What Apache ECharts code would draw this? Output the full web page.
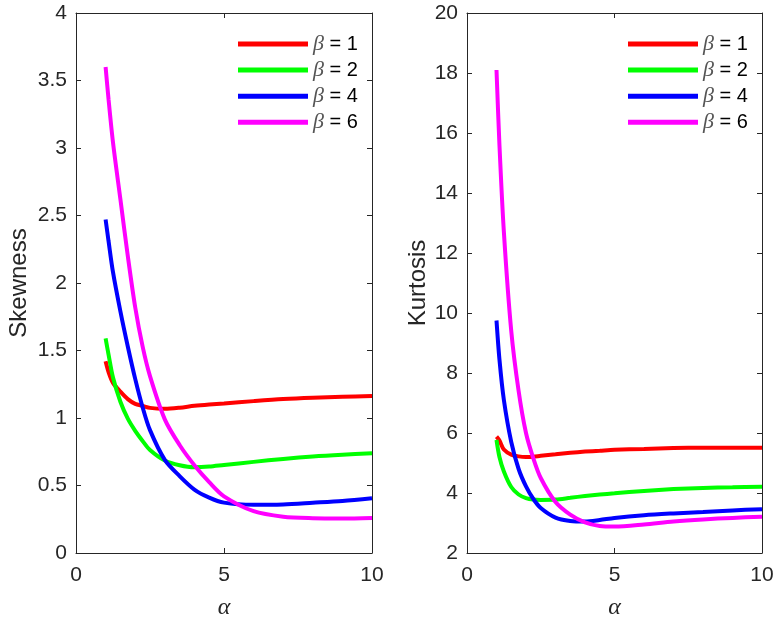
<!DOCTYPE html>
<html>
<head>
<meta charset="utf-8">
<script src="https://cdn.jsdelivr.net/npm/echarts@6/dist/echarts.min.js"></script>
<style>
  html, body { margin: 0; padding: 0; background: #fff; }
  #chart { width: 780px; height: 620px; }
</style>
</head>
<body>
<div id="chart"></div>
<script>
// shape parameter alpha, shared by every curve
const alpha = [1, 1.1, 1.25, 1.5, 1.75, 2, 2.25, 2.5, 3, 3.5, 4, 4.5, 5, 6, 7, 8, 9, 10];

const betaNames = ['1', '2', '4', '6'];
const betaColors = ['#ff0000', '#00ff00', '#0000ff', '#ff00ff'];

// skewness, one array per beta
const skewB1 = [1.42, 1.34, 1.26, 1.195, 1.14, 1.105, 1.09, 1.075, 1.068, 1.076, 1.09, 1.10, 1.108, 1.125, 1.14, 1.15, 1.157, 1.163];
const skewB2 = [1.59, 1.47, 1.30, 1.12, 0.995, 0.905, 0.83, 0.763, 0.685, 0.65, 0.635, 0.64, 0.652, 0.675, 0.697, 0.715, 0.728, 0.738];
const skewB4 = [2.47, 2.31, 2.08, 1.79, 1.53, 1.29, 1.08, 0.91, 0.69, 0.57, 0.47, 0.41, 0.373, 0.357, 0.36, 0.372, 0.385, 0.405];
const skewB6 = [3.60, 3.36, 3.04, 2.62, 2.20, 1.82, 1.53, 1.31, 0.99, 0.80, 0.65, 0.525, 0.42, 0.31, 0.269, 0.258, 0.256, 0.26];

// kurtosis, one array per beta
const kurtB1 = [5.88, 5.75, 5.45, 5.28, 5.22, 5.20, 5.21, 5.24, 5.29, 5.34, 5.38, 5.41, 5.44, 5.47, 5.50, 5.51, 5.51, 5.51];
const kurtB2 = [5.77, 5.20, 4.72, 4.20, 3.95, 3.83, 3.78, 3.77, 3.78, 3.84, 3.90, 3.95, 3.99, 4.07, 4.13, 4.17, 4.19, 4.21];
const kurtB4 = [9.75, 8.45, 7.10, 5.70, 4.80, 4.22, 3.80, 3.50, 3.18, 3.07, 3.05, 3.10, 3.17, 3.26, 3.32, 3.37, 3.42, 3.46];
const kurtB6 = [18.1, 15.6, 12.7, 9.4, 7.4, 6.0, 5.15, 4.5, 3.7, 3.28, 3.02, 2.90, 2.88, 2.95, 3.05, 3.12, 3.17, 3.21];

const skewData = [skewB1, skewB2, skewB4, skewB6];
const kurtData = [kurtB1, kurtB2, kurtB4, kurtB6];

const chart = echarts.init(document.getElementById('chart'));

const axisColor = '#262626';
const font = 'Liberation Sans, Arial, sans-serif';

function xAxes(gridIndex) {
  const base = {
    gridIndex: gridIndex,
    type: 'value',
    min: 0,
    max: 10,
    interval: 5,
    splitLine: { show: false },
    axisLine: { show: true, onZero: false, lineStyle: { color: axisColor, width: 1 } },
    axisTick: { show: true, inside: true, length: 5, lineStyle: { color: axisColor } }
  };
  return [
    Object.assign({}, base, {
      position: 'bottom',
      name: 'α',
      nameLocation: 'middle',
      nameGap: 43,
      nameTextStyle: { fontFamily: 'Liberation Serif, serif', fontStyle: 'italic', fontSize: 24, color: axisColor },
      axisLabel: { fontFamily: font, fontSize: 21, color: axisColor, margin: 12 }
    }),
    Object.assign({}, base, { position: 'top', axisLabel: { show: false } })
  ];
}

function yAxes(gridIndex, min, max, interval, name, gap) {
  const base = {
    gridIndex: gridIndex,
    type: 'value',
    min: min,
    max: max,
    interval: interval,
    splitLine: { show: false },
    axisLine: { show: true, onZero: false, lineStyle: { color: axisColor, width: 1 } },
    axisTick: { show: true, inside: true, length: 5, lineStyle: { color: axisColor } }
  };
  return [
    Object.assign({}, base, {
      position: 'left',
      name: name,
      nameLocation: 'middle',
      nameGap: gap,
      nameTextStyle: { fontFamily: font, fontSize: 24, color: axisColor },
      axisLabel: { fontFamily: font, fontSize: 21, color: axisColor, margin: 9 }
    }),
    Object.assign({}, base, { position: 'right', axisLabel: { show: false } })
  ];
}

function makeSeries(data, xIdx, yIdx) {
  return data.map((vals, i) => ({
    name: betaNames[i],
    type: 'line',
    xAxisIndex: xIdx,
    yAxisIndex: yIdx,
    showSymbol: false,
    smooth: 0.3,
    animation: false,
    itemStyle: { color: betaColors[i] },
    lineStyle: { color: betaColors[i], width: 4 },
    data: alpha.map((a, j) => [a, vals[j]])
  }));
}

function makeLegend(left) {
  return {
    left: left,
    top: 33,
    padding: 0,
    orient: 'vertical',
    icon: 'rect',
    itemWidth: 70,
    itemHeight: 5,
    itemGap: 4.1,
    selectedMode: false,
    data: betaNames,
    formatter: name => '{g|β}{t| = ' + name + '}',
    textStyle: {
      lineHeight: 20,
      rich: {
        g: { fontFamily: 'Liberation Serif, serif', fontStyle: 'italic', fontSize: 22, color: '#555', lineHeight: 20 },
        t: { fontFamily: font, fontSize: 20, color: '#000', lineHeight: 20 }
      }
    }
  };
}

const option = {
  backgroundColor: '#fff',
  animation: false,
  grid: [
    { left: 76, top: 13, width: 296, height: 540, outerBoundsMode: 'none' },
    { left: 467, top: 13, width: 295, height: 540, outerBoundsMode: 'none' }
  ],
  legend: [makeLegend(238), makeLegend(628)],
  xAxis: xAxes(0).concat(xAxes(1)),
  yAxis: yAxes(0, 0, 4, 0.5, 'Skewness', 45).concat(yAxes(1, 2, 20, 2, 'Kurtosis', 37)),
  series: makeSeries(skewData, 0, 0).concat(makeSeries(kurtData, 2, 2))
};

chart.setOption(option);
</script>
</body>
</html>
